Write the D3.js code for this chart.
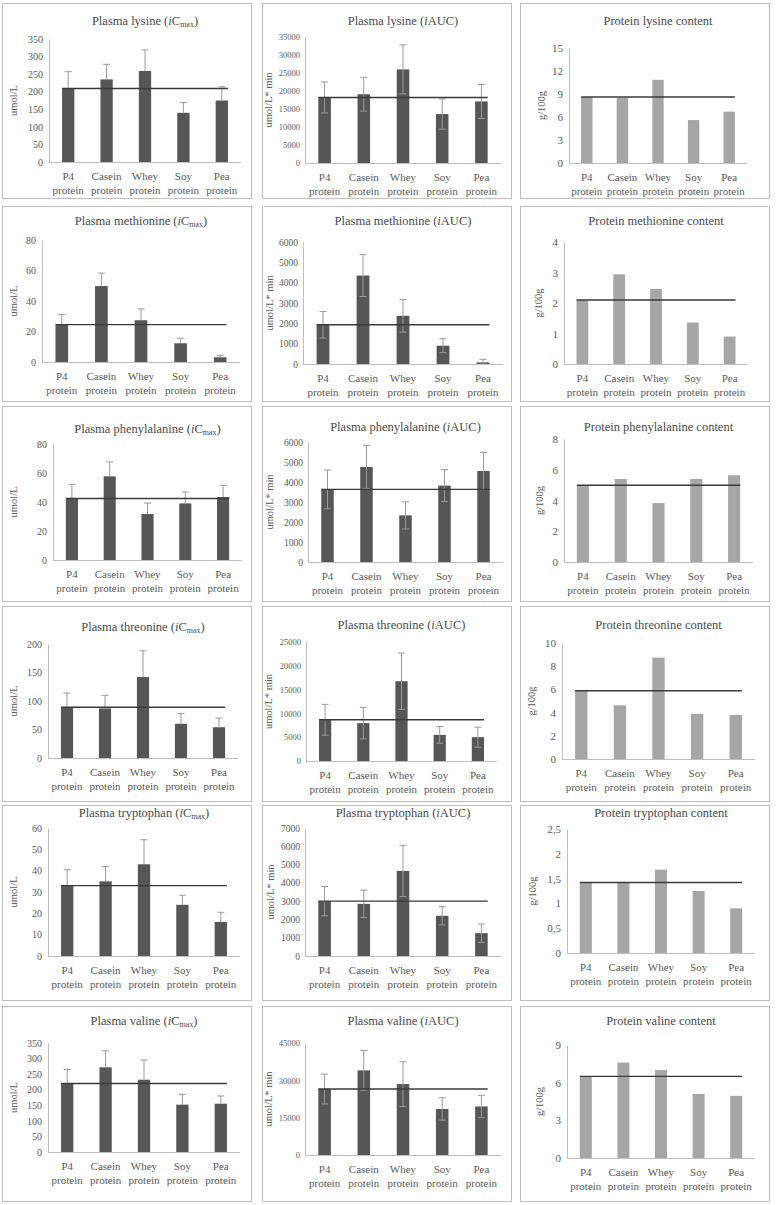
<!DOCTYPE html>
<html><head><meta charset="utf-8">
<script src="https://cdn.jsdelivr.net/npm/d3@7"></script>
<style>
html,body{margin:0;padding:0;background:#fff;}
svg{display:block;}
svg text{font-family:"Liberation Serif","Times New Roman",serif !important;}
</style></head>
<body>
<svg id="chart" width="776" height="1205"></svg>
<script>
const categories = ["P4 protein","Casein protein","Whey protein","Soy protein","Pea protein"];
const aminoAcids = ["lysine","methionine","phenylalanine","threonine","tryptophan","valine"];

// Plasma iCmax (umol/L) and SD
const cmaxValues = [
  [209,235,259,140,175],
  [24.5,49.8,27.4,12.3,3.1],
  [42.4,57.7,31.7,39.0,43.4],
  [89,87,142,60,54],
  [33,35,43,24,16],
  [220,272,232,152,155]
];
const cmaxErrors = [
  [48,43,60,29,39],
  [6.6,8.5,7.4,3.3,1.3],
  [9.8,9.9,7.6,7.9,8.1],
  [25,23,46,18,16],
  [7.5,7,11.5,4.5,4.5],
  [45,53,63,33,25]
];
// Plasma iAUC (umol/L*min) and SD
const aucValues = [
  [18200,19100,26000,13600,17100],
  [1930,4350,2370,900,80],
  [3630,4750,2330,3820,4550],
  [8660,7960,16760,5490,5000],
  [3000,2850,4650,2200,1250],
  [26500,34000,28500,18500,19500]
];
const aucErrors = [
  [4300,4700,6800,4200,4700],
  [650,1030,800,340,150],
  [970,1070,680,800,930],
  [3240,3310,5920,1760,2110],
  [800,750,1400,500,500],
  [6000,8000,9000,4500,4500]
];
// Protein content (g/100g)
const contentValues = [
  [8.6,8.5,10.85,5.6,6.7],
  [2.1,2.94,2.46,1.36,0.9],
  [4.99,5.4,3.83,5.4,5.64],
  [5.88,4.63,8.74,3.89,3.80],
  [1.42,1.42,1.68,1.25,0.9],
  [6.5,7.6,7.0,5.1,4.95]
];
// Axis ticks
const cmaxTicks = [
  [0,50,100,150,200,250,300,350],
  [0,20,40,60,80],
  [0,20,40,60,80],
  [0,50,100,150,200],
  [0,10,20,30,40,50,60],
  [0,50,100,150,200,250,300,350]
];
const aucTicks = [
  [0,5000,10000,15000,20000,25000,30000,35000],
  [0,1000,2000,3000,4000,5000,6000],
  [0,1000,2000,3000,4000,5000,6000],
  [0,5000,10000,15000,20000,25000],
  [0,1000,2000,3000,4000,5000,6000,7000],
  [0,15000,30000,45000]
];
const contentTicks = [
  [0,3,6,9,12,15],
  [0,1,2,3,4],
  [0,2,4,6,8],
  [0,2,4,6,8,10],
  [0,0.5,1,1.5,2,2.5],
  [0,3,6,9]
];
const yLabels = ["umol/L","umol/L* min","g/100g"];

// ---- layout (positions only) ----
const colX = [2,262,520];
const rowY = [3,206,406,606,805,1006];
const panelW = 250, panelH = 196;
// [left,right,top,bottom,yLabelX,titleY]
const layout = [
  [[47,239,36,159,13,19],[43,239,34,160,8,19],[49,227,45,160,23,19]],
  [[40,238,34,156,13,16],[41,241,36,158,9,16],[44,228,36,158,20,16]],
  [[51,240,38,154,13,24],[46,241,36,156,9,22],[44,233,33,156,21,22]],
  [[46,236,38,152,13,22],[44,235,36,155,8,20],[42,235,37,153,13,20]],
  [[46,238,23,151,13,9],[43,239,23,151,10,9],[47,235,24,148,14,9]],
  [[46,238,37,146,13,16],[43,239,37,149,8,16],[47,235,39,152,21,16]]
];

const svg = d3.select("#chart");
const fmtComma = v => String(v).replace(".", ",");

function titleText(sel, col, aa) {
  if (col === 2) {
    sel.text("Protein " + aa + "  content");
    return;
  }
  sel.append("tspan").text("Plasma " + aa + "  (");
  sel.append("tspan").attr("font-style","italic").text("i");
  if (col === 0) {
    sel.append("tspan").text("C");
    sel.append("tspan").attr("font-size","8px").attr("dy","3").text("max");
    sel.append("tspan").attr("dy","-3").text(")");
  } else {
    sel.append("tspan").text("AUC)");
  }
}

aminoAcids.forEach((aa, r) => {
  const sets = [
    {vals: cmaxValues[r], errs: cmaxErrors[r], ticks: cmaxTicks[r], color:"#565656", both:false},
    {vals: aucValues[r], errs: aucErrors[r], ticks: aucTicks[r], color:"#565656", both:true},
    {vals: contentValues[r], errs: null, ticks: contentTicks[r], color:"#a6a6a6", both:false}
  ];
  sets.forEach((s, c) => {
    const [L,R,T,B,ylx,ty] = layout[r][c];
    const g = svg.append("g").attr("transform",`translate(${colX[c]},${rowY[r]})`);
    g.append("rect").attr("x",0.5).attr("y",0.5).attr("width",panelW-1).attr("height",panelH-1)
      .attr("fill","#fff").attr("stroke","#bfbfbf").attr("stroke-width",1);

    const x = d3.scaleBand().domain(categories).range([L,R]).paddingInner(0.68).paddingOuter(0.34);
    const y = d3.scaleLinear().domain([0, d3.max(s.ticks)]).range([B,T]);

    // title
    const t = g.append("text").attr("x",(L+R)/2).attr("y",ty).attr("text-anchor","middle")
      .attr("dominant-baseline","middle").attr("font-size","12.5px").attr("fill","#4a4a4a");
    titleText(t, c, aa);

    // y axis
    const maxLen = d3.max(s.ticks, v => String(v).length);
    const tickFont = c === 2 ? 11 : (maxLen >= 5 ? 8.5 : (c === 1 ? 9.5 : 10));
    const ya = g.append("g").attr("transform",`translate(${L},0)`)
      .call(d3.axisLeft(y).tickValues(s.ticks).tickSize(0).tickPadding(c === 1 ? 5 : 6)
        .tickFormat(c === 2 ? fmtComma : d3.format("d")));
    ya.attr("font-family", null);
    ya.select(".domain").attr("stroke","#bfbfbf");
    ya.selectAll("text").attr("font-size", tickFont + "px").attr("fill","#595959");

    // y label
    g.append("text").attr("transform",`translate(${ylx},${(T+B)/2}) rotate(-90)`)
      .attr("text-anchor","middle").attr("dominant-baseline","middle")
      .attr("font-size","10.5px").attr("fill","#595959").text(yLabels[c]);

    // bars
    g.selectAll("rect.bar").data(s.vals).enter().append("rect").attr("class","bar")
      .attr("x",(d,i)=>x(categories[i])).attr("width",x.bandwidth())
      .attr("y",d=>y(d)).attr("height",d=>B-y(d)).attr("fill",s.color);

    // error bars
    if (s.errs) {
      const eg = g.append("g").attr("stroke","#9a9a9a").attr("stroke-width",1);
      s.vals.forEach((v,i) => {
        const cx = x(categories[i]) + x.bandwidth()/2;
        const hi = v + s.errs[i];
        const lo = s.both ? Math.max(0, v - s.errs[i]) : v;
        eg.append("line").attr("x1",cx).attr("x2",cx).attr("y1",y(hi)).attr("y2",y(lo));
        eg.append("line").attr("x1",cx-3.5).attr("x2",cx+3.5).attr("y1",y(hi)).attr("y2",y(hi));
        if (s.both) eg.append("line").attr("x1",cx-3.5).attr("x2",cx+3.5).attr("y1",y(lo)).attr("y2",y(lo));
      });
    }

    // x axis
    g.append("line").attr("x1",L).attr("x2",R).attr("y1",B+0.5).attr("y2",B+0.5).attr("stroke","#bfbfbf");
    categories.forEach((cat,i) => {
      const cx = x(cat) + x.bandwidth()/2;
      const parts = cat.split(" ");
      const tx = g.append("text").attr("text-anchor","middle").attr("font-size","11px").attr("fill","#595959");
      tx.append("tspan").attr("x",cx).attr("y",B+18).text(parts[0]);
      tx.append("tspan").attr("x",cx).attr("y",B+32).text(parts[1]);
    });

    // reference line at P4 level
    const refV = s.vals[0];
    g.append("line").attr("x1",x(categories[0])).attr("x2",x(categories[4])+x.bandwidth())
      .attr("y1",y(refV)).attr("y2",y(refV)).attr("stroke","#3a3a3a").attr("stroke-width",1.4);
  });
});
</script>
</body></html>
